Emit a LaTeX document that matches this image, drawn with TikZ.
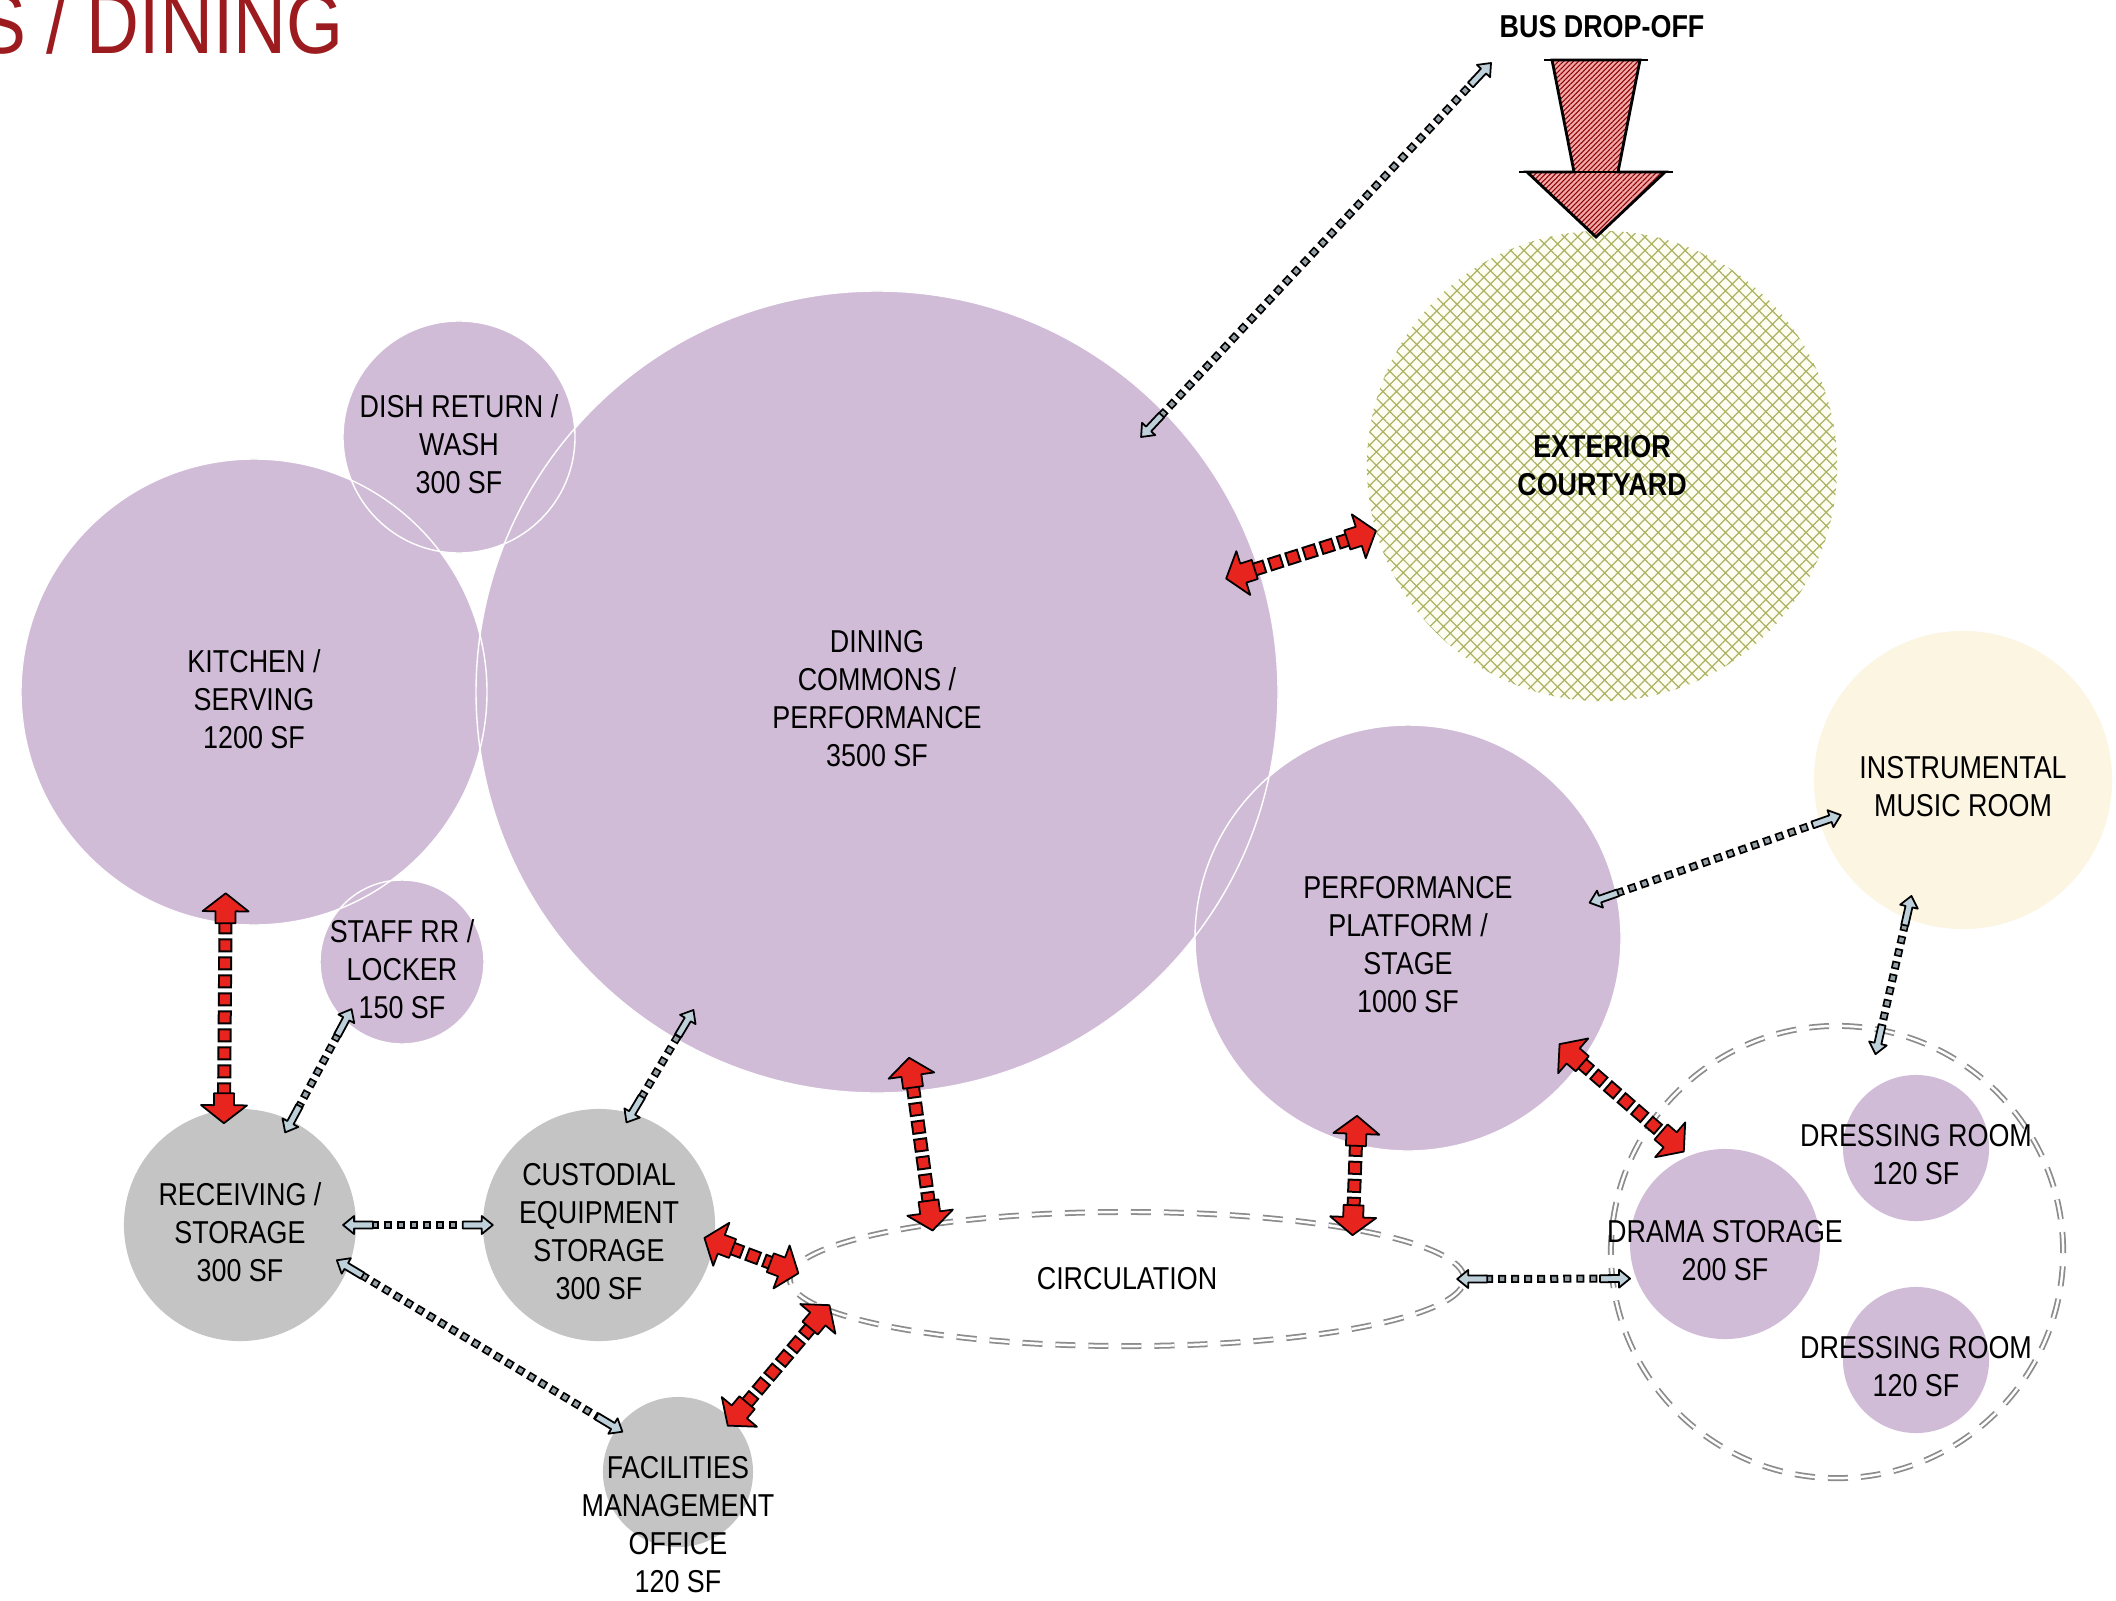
\documentclass[tikz,border=0pt]{standalone}
\usepackage{fontspec}
\setmainfont{Liberation Sans}[FakeStretch=0.85]
\usetikzlibrary{shapes.geometric,patterns.meta,decorations.markings,positioning}

\definecolor{lilac}{RGB}{209,188,216}
\definecolor{stone}{RGB}{196,196,196}
\definecolor{cream}{RGB}{252,245,225}
\definecolor{courtbase}{RGB}{253,253,242}
\definecolor{olive}{RGB}{172,178,98}
\definecolor{arrowred}{RGB}{232,36,30}
\definecolor{tipblue}{RGB}{190,208,218}
\definecolor{squaregray}{RGB}{150,162,168}
\definecolor{titlered}{RGB}{155,27,30}
\definecolor{zonegray}{RGB}{140,140,140}
\definecolor{buspink}{RGB}{242,168,168}

\newcommand\roomfont{\fontsize{9pt}{10.8pt}\selectfont}
\newcommand\redhead[1][]{\filldraw[headstyle, fill=arrowred, #1] (0,0) -- (-18,-23)
  -- (-18,-10) -- (-30,-10) -- (-30,10) -- (-18,10) -- (-18,23) -- cycle;}
\newcommand\bluehead[1][]{\filldraw[headstyle, fill=tipblue, #1] (0,0) -- (-11,-9)
  -- (-11,-3.5) -- (-30,-3.5) -- (-30,3.5) -- (-11,3.5) -- (-11,9) -- cycle;}

\tikzset{
  room/.style={circle, fill=lilac, inner sep=0pt, outer sep=-4pt},
  service/.style={room, fill=stone},
  lbl/.style={align=center, font=\roomfont, inner sep=0pt},
  inroom/.style={lbl, yshift=-0.07cm},
  zone/.style={draw=zonegray, line width=0.5pt, double=white, double distance=0.7pt,
    dash pattern=on 0.2cm off 0.13cm, inner sep=0pt},
  rim/.style={draw=white, line width=0.4pt},
  headstyle/.style={draw=black, line width=0.5pt, solid, line join=round,
    shorten <=0pt, shorten >=0pt},
  redlink/.style={draw=black, line width=0.14cm, dash pattern=on 0.14cm off 0.04cm,
    shorten <=0.27cm, shorten >=0.27cm,
    postaction={draw=arrowred, line width=0.10cm, dash pattern=on 0.10cm off 0.08cm,
      dash phase=0.16cm},
    postaction={decorate, decoration={markings,
      mark=at position 0 with {\redhead[rotate=180]},
      mark=at position 1 with {\redhead}}}},
  bluelink/.style={draw=black, line width=0.08cm, dash pattern=on 0.08cm off 0.05cm,
    shorten <=0.28cm, shorten >=0.28cm,
    postaction={draw=squaregray, line width=0.045cm, dash pattern=on 0.045cm off 0.085cm,
      dash phase=0.1125cm},
    postaction={decorate, decoration={markings,
      mark=at position 0 with {\bluehead[rotate=180]},
      mark=at position 1 with {\bluehead}}}}
}

\begin{document}
\begin{tikzpicture}[x=0.01cm, y=-0.01cm]
  \useasboundingbox (0,0) rectangle (2116,1600);
  \fill[white] (0,0) rectangle (2116,1600);

  \node[anchor=base east, text=titlered, inner sep=0pt,
    font=\fontsize{24.5pt}{28pt}\selectfont] (title) at (344,54) {S / DINING};

  % courtyard and bus drop-off
  \node[circle, minimum size=4.7cm, inner sep=0pt, outer sep=0pt, preaction={fill=courtbase},
    pattern={Hatch[angle=45, distance=2.7pt, line width=0.35pt]}, pattern color=olive]
    (court) at (1602,466) {};
  \node[lbl, font=\roomfont\bfseries] (courtL) at (court) {EXTERIOR\\COURTYARD};
  \path[draw=black, line width=0.8pt, preaction={fill=buspink},
    pattern={Lines[angle=45, distance=1pt, line width=0.3pt]}, pattern color=red!55!black]
    (1552,60) -- (1640,60) -- (1618,172) -- (1665,172) -- (1596,237) -- (1527,172)
    -- (1574,172) -- cycle;
  \draw[line width=0.8pt] (1544,60) -- (1648,60) (1519,172) -- (1673,172);
  \node[lbl, font=\roomfont\bfseries] (busL) at (1602,27) {BUS DROP-OFF};
  \coordinate (dropoff) at (1491,63);

  % dashed zones
  \node[zone, circle, minimum size=4.52cm, outer sep=-7pt] (cluster) at (1837,1252) {};
  \node[zone, ellipse, minimum width=6.74cm, minimum height=1.34cm, outer sep=-2pt,
    font=\roomfont] (circ) at (1127,1279) {CIRCULATION};

  % rooms
  \node[room, minimum size=4.66cm, outer sep=-8.5pt] (kitchen) at (254,692) {};
  \node[room, minimum size=2.32cm] (dish) at (459,437) {};
  \node[room, minimum size=8.02cm, outer sep=-9.7pt] (dining) at (877,692) {};
  \node[room, minimum size=1.64cm, outer sep=-3.7pt] (staff) at (402,962) {};
  \node[room, minimum size=4.26cm, outer sep=-8pt] (perf) at (1408,938) {};
  \node[room, fill=cream, minimum size=2.98cm, outer sep=-6.3pt] (instr) at (1963,780) {};
  \node[room, minimum size=1.90cm, outer sep=1.7pt] (drama) at (1725,1244) {};
  \node[room, minimum size=1.46cm] (dressA) at (1916,1148) {};
  \node[room, minimum size=1.46cm] (dressB) at (1916,1360) {};
  \node[service, minimum size=2.32cm, outer sep=-3.7pt] (recv) at (240,1225) {};
  \node[service, minimum size=2.32cm, outer sep=-2.8pt] (custodial) at (599,1225) {};
  \node[service, minimum size=1.50cm, outer sep=-2pt] (facil) at (678,1472) {};

  \foreach \n/\r in {kitchen/233, dish/116, dining/401, staff/82, perf/213}
    \draw[rim] (\n.center) circle[radius=\r];

  \node[inroom] (kitchenL) at (kitchen) {KITCHEN /\\SERVING\\1200 SF};
  \node[inroom] (dishL) at (dish) {DISH RETURN /\\WASH\\300 SF};
  \node[inroom] (diningL) at (dining) {DINING\\COMMONS /\\PERFORMANCE\\3500 SF};
  \node[inroom] (staffL) at (staff) {STAFF RR /\\LOCKER\\150 SF};
  \node[inroom] (perfL) at (perf) {PERFORMANCE\\PLATFORM /\\STAGE\\1000 SF};
  \node[inroom] (instrL) at (instr) {INSTRUMENTAL\\MUSIC ROOM};
  \node[inroom] (dramaL) at (drama) {DRAMA STORAGE\\200 SF};
  \node[inroom] (dressAL) at (dressA) {DRESSING ROOM\\120 SF};
  \node[inroom] (dressBL) at (dressB) {DRESSING ROOM\\120 SF};
  \node[inroom] (recvL) at (recv) {RECEIVING /\\STORAGE\\300 SF};
  \node[inroom] (custodialL) at (custodial) {CUSTODIAL\\EQUIPMENT\\STORAGE\\300 SF};
  \node[lbl] (facilL) at ([yshift=-0.53cm]facil.center) {FACILITIES\\MANAGEMENT\\OFFICE\\120 SF};

  % adjacencies
  \draw[bluelink] (dining.44) -- (dropoff);
  \draw[bluelink] (staff.223) -- (recv.64);
  \draw[bluelink] (recv.0) -- (custodial.180);
  \draw[bluelink] (recv.340) -- (facil.144);
  \draw[bluelink] (custodial.75) -- (dining.240);
  \draw[bluelink] (perf.11) -- (instr.196);
  \draw[bluelink] (instr.246) -- (cluster.79);
  \draw[bluelink] (circ.0) -- (drama.200);

  \draw[redlink] (kitchen.262) -- (recv.99);
  \draw[redlink] (dining.18) -- (court.196);
  \draw[redlink] (dining.275) -- (circ.166);
  \draw[redlink] (perf.254) -- (circ.11);
  \draw[redlink] (perf.325) -- (drama.114);
  \draw[redlink] (custodial.353) -- (circ.179);
  \draw[redlink] (facil.43) -- (circ.185);
\end{tikzpicture}
\end{document}
